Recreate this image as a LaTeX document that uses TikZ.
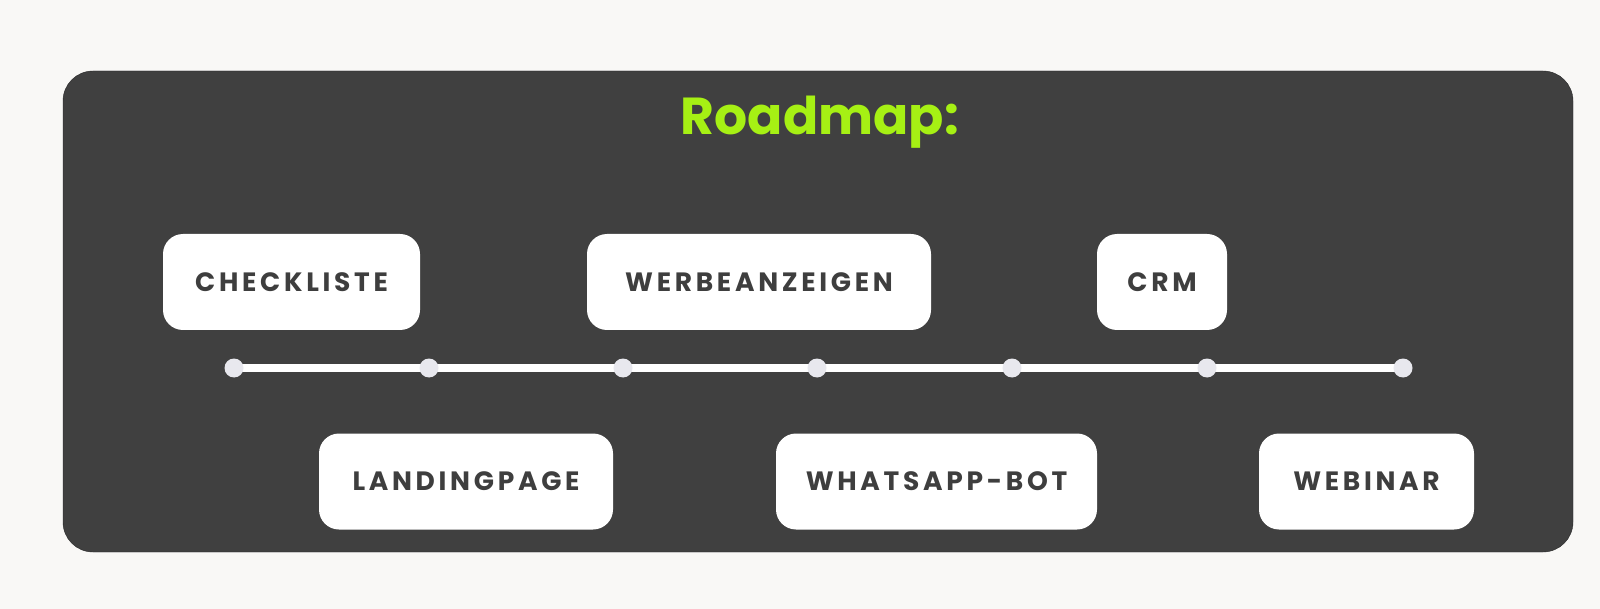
\documentclass[tikz,border=0pt]{standalone}
\usepackage{fontspec}
\setmainfont{Poppins}
\usetikzlibrary{positioning}
\definecolor{BG}{RGB}{249,248,246}
\definecolor{PN}{RGB}{64,64,64}
\definecolor{PE}{RGB}{40,40,40}
\definecolor{TG}{RGB}{166,240,20}
\definecolor{TX}{RGB}{62,62,62}
\definecolor{DT}{RGB}{232,232,238}

\begin{document}
\begin{tikzpicture}[x=1pt, y=-1pt,
  task/.style={fill=white, rounded corners=20pt, inner xsep=0pt,
               minimum height=96pt, text=TX,
               font=\fontsize{26.5}{26.5}\selectfont\bfseries\addfontfeature{LetterSpace=14}},
  dot/.style={circle, fill=DT, minimum size=19pt, inner sep=0pt},
  track/.style={line width=8pt, draw=white}
]
\fill[BG] (0,0) rectangle (1600,609);
\useasboundingbox (0,0) rectangle (1600,609);
\draw[fill=PN, draw=PE, rounded corners=30pt] (63,71) rectangle (1573,552);

\node[text=TG, font=\fontsize{52}{52}\selectfont\bfseries] (title) at (820,122) {Roadmap:};

% timeline
\foreach \i/\x in {1/234, 2/429, 3/623, 4/817, 5/1012, 6/1207, 7/1403}
  \coordinate (p\i) at (\x,368);
\draw[track] (p1) -- (p7);
\foreach \i in {1,...,7}
  \node[dot] (d\i) at (p\i) {};

\node[task, minimum width=257pt] (chk) at (291.5,282) {CHECKLISTE};
\node[task, minimum width=344pt] (wer) at (759,282)   {WERBEANZEIGEN};
\node[task, minimum width=130pt] (crm) at (1162,282)  {CRM};
\node[task, minimum width=294pt] (lnd) at (466,481.5) {LANDINGPAGE};
\node[task, minimum width=321pt] (wab) at (936.5,481.5) {WHATSAPP-BOT};
\node[task, minimum width=215pt] (web) at (1366.5,481.5) {WEBINAR};
\end{tikzpicture}
\end{document}
